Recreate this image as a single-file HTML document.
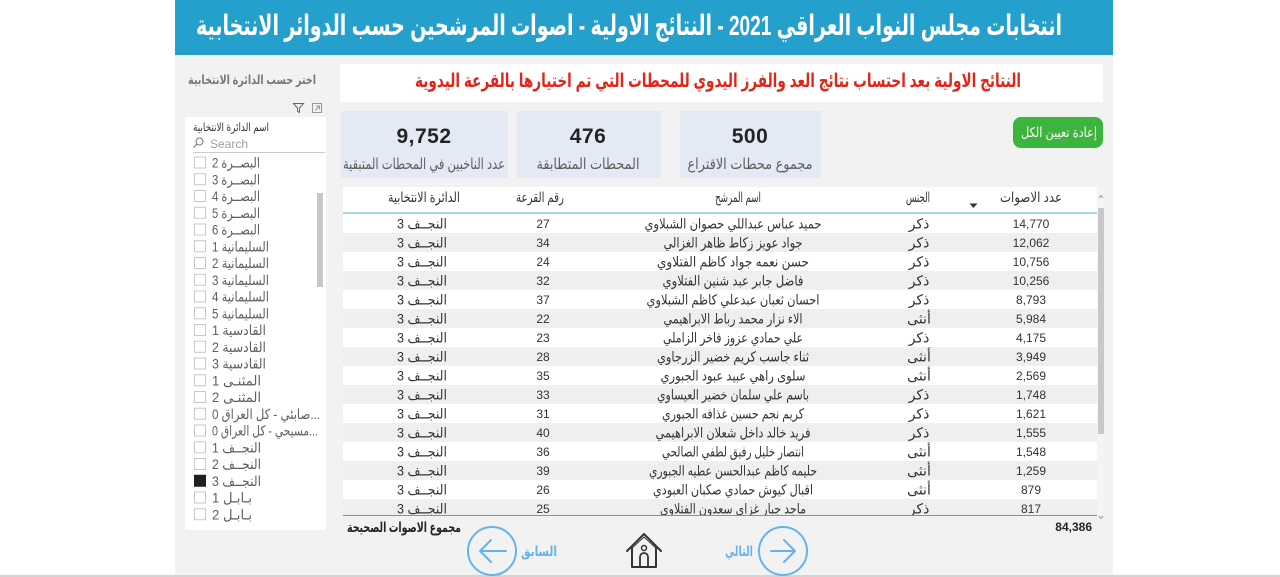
<!DOCTYPE html>
<html>
<head>
<meta charset="utf-8">
<style>
html,body{margin:0;padding:0;background:#fff;}
svg{display:block;}
text{font-family:"Liberation Sans","DejaVu Sans",sans-serif;}
</style>
</head>
<body>
<svg xmlns="http://www.w3.org/2000/svg" width="1280" height="577" viewBox="0 0 1280 577">
<defs>
<clipPath id="tclip"><rect x="343" y="187" width="754" height="328"/></clipPath>
</defs>
<rect x="0" y="0" width="1280" height="577" fill="#ffffff"/>
<rect x="175" y="0" width="938" height="575" fill="#f2f2f2"/>
<rect x="0" y="575" width="1280" height="2" fill="#d4d4d4"/>

<!-- Header -->
<rect x="175" y="0" width="938" height="55" fill="#25a0cd"/>
<text x="629" y="35" font-size="28" font-weight="bold" fill="#ffffff" text-anchor="middle" textLength="866" lengthAdjust="spacingAndGlyphs">انتخابات مجلس النواب العراقي 2021 - النتائج الاولية - اصوات المرشحين حسب الدوائر الانتخابية</text>

<!-- Subtitle -->
<rect x="340" y="64" width="763" height="38" fill="#ffffff"/>
<text x="718" y="87" font-size="19" font-weight="bold" fill="#e0261b" text-anchor="middle" textLength="606" lengthAdjust="spacingAndGlyphs">النتائج الاولية بعد احتساب نتائج العد والفرز اليدوي للمحطات التي تم اختيارها بالقرعة اليدوية</text>

<!-- Left slicer panel -->
<text x="252" y="84" font-size="12.5" font-weight="bold" fill="#777777" text-anchor="middle" textLength="128" lengthAdjust="spacingAndGlyphs">اختر حسب الدائرة الانتخابية</text>
<path d="M293.5,103.5 H303.5 L299.5,108 V112.5 L297.5,111.5 V108 Z" fill="none" stroke="#666" stroke-width="1"/>
<rect x="312.5" y="103.5" width="9" height="9" fill="none" stroke="#999" stroke-width="1"/>
<path d="M316,106 H319.5 V109.5 M319.5,106 L315,110.5" fill="none" stroke="#999" stroke-width="1"/>
<rect x="185" y="117" width="141" height="413" fill="#ffffff"/>
<text x="231" y="131" font-size="11.5" fill="#333333" text-anchor="middle" textLength="76" lengthAdjust="spacingAndGlyphs">اسم الدائرة الانتخابية</text>
<circle cx="199.5" cy="141.5" r="3.5" fill="none" stroke="#777" stroke-width="1"/>
<line x1="197" y1="144" x2="193.5" y2="147.5" stroke="#777" stroke-width="1.2"/>
<text x="210" y="148" font-size="12" fill="#a0a0a0">Search</text>
<rect x="193" y="152" width="132" height="1" fill="#cccccc"/>
<rect x="317" y="193" width="6" height="94" fill="#c8c8c8"/>

<g font-size="14" fill="#605e5c">
<rect x="194.5" y="157" width="11" height="11" fill="none" stroke="#c8c8c8"/>
<text x="212" y="167.5" textLength="48" lengthAdjust="spacingAndGlyphs">البصــرة 2</text>
<rect x="194.5" y="173.75" width="11" height="11" fill="none" stroke="#c8c8c8"/>
<text x="212" y="184.25" textLength="48" lengthAdjust="spacingAndGlyphs">البصــرة 3</text>
<rect x="194.5" y="190.5" width="11" height="11" fill="none" stroke="#c8c8c8"/>
<text x="212" y="201" textLength="48" lengthAdjust="spacingAndGlyphs">البصــرة 4</text>
<rect x="194.5" y="207.25" width="11" height="11" fill="none" stroke="#c8c8c8"/>
<text x="212" y="217.75" textLength="48" lengthAdjust="spacingAndGlyphs">البصــرة 5</text>
<rect x="194.5" y="224" width="11" height="11" fill="none" stroke="#c8c8c8"/>
<text x="212" y="234.5" textLength="48" lengthAdjust="spacingAndGlyphs">البصــرة 6</text>
<rect x="194.5" y="240.75" width="11" height="11" fill="none" stroke="#c8c8c8"/>
<text x="212" y="251.25" textLength="57" lengthAdjust="spacingAndGlyphs">السليمانية 1</text>
<rect x="194.5" y="257.5" width="11" height="11" fill="none" stroke="#c8c8c8"/>
<text x="212" y="268" textLength="57" lengthAdjust="spacingAndGlyphs">السليمانية 2</text>
<rect x="194.5" y="274.25" width="11" height="11" fill="none" stroke="#c8c8c8"/>
<text x="212" y="284.75" textLength="57" lengthAdjust="spacingAndGlyphs">السليمانية 3</text>
<rect x="194.5" y="291" width="11" height="11" fill="none" stroke="#c8c8c8"/>
<text x="212" y="301.5" textLength="57" lengthAdjust="spacingAndGlyphs">السليمانية 4</text>
<rect x="194.5" y="307.75" width="11" height="11" fill="none" stroke="#c8c8c8"/>
<text x="212" y="318.25" textLength="57" lengthAdjust="spacingAndGlyphs">السليمانية 5</text>
<rect x="194.5" y="324.5" width="11" height="11" fill="none" stroke="#c8c8c8"/>
<text x="212" y="335" textLength="54" lengthAdjust="spacingAndGlyphs">القادسية 1</text>
<rect x="194.5" y="341.25" width="11" height="11" fill="none" stroke="#c8c8c8"/>
<text x="212" y="351.75" textLength="54" lengthAdjust="spacingAndGlyphs">القادسية 2</text>
<rect x="194.5" y="358" width="11" height="11" fill="none" stroke="#c8c8c8"/>
<text x="212" y="368.5" textLength="54" lengthAdjust="spacingAndGlyphs">القادسية 3</text>
<rect x="194.5" y="374.75" width="11" height="11" fill="none" stroke="#c8c8c8"/>
<text x="212" y="385.25" textLength="49" lengthAdjust="spacingAndGlyphs">المثنـى 1</text>
<rect x="194.5" y="391.5" width="11" height="11" fill="none" stroke="#c8c8c8"/>
<text x="212" y="402" textLength="49" lengthAdjust="spacingAndGlyphs">المثنـى 2</text>
<rect x="194.5" y="408.25" width="11" height="11" fill="none" stroke="#c8c8c8"/>
<text x="212" y="418.75" textLength="108" lengthAdjust="spacingAndGlyphs">صابئي - كل العراق 0...</text>
<rect x="194.5" y="425" width="11" height="11" fill="none" stroke="#c8c8c8"/>
<text x="212" y="435.5" textLength="106" lengthAdjust="spacingAndGlyphs">مسيحي - كل العراق 0...</text>
<rect x="194.5" y="441.75" width="11" height="11" fill="none" stroke="#c8c8c8"/>
<text x="212" y="452.25" textLength="49" lengthAdjust="spacingAndGlyphs">النجــف 1</text>
<rect x="194.5" y="458.5" width="11" height="11" fill="none" stroke="#c8c8c8"/>
<text x="212" y="469" textLength="49" lengthAdjust="spacingAndGlyphs">النجــف 2</text>
<rect x="194" y="474.75" width="12" height="12" fill="#1f1f1f"/>
<text x="212" y="485.75" textLength="49" lengthAdjust="spacingAndGlyphs">النجــف 3</text>
<rect x="194.5" y="492" width="11" height="11" fill="none" stroke="#c8c8c8"/>
<text x="212" y="502.5" textLength="40" lengthAdjust="spacingAndGlyphs">بـابـل 1</text>
<rect x="194.5" y="508.75" width="11" height="11" fill="none" stroke="#c8c8c8"/>
<text x="212" y="519.25" textLength="40" lengthAdjust="spacingAndGlyphs">بـابـل 2</text>
</g>

<!-- KPI cards -->
<rect x="341" y="111" width="167" height="67" fill="#e3e9f5"/>
<text x="424" y="143" font-size="21" font-weight="bold" fill="#252423" text-anchor="middle" letter-spacing="0.5">9,752</text>
<text x="424" y="169" font-size="15" fill="#605e5c" text-anchor="middle" textLength="162" lengthAdjust="spacingAndGlyphs">عدد الناخبين في المحطات المتبقية</text>

<rect x="517" y="111" width="144" height="67" fill="#e3e9f5"/>
<text x="588" y="143" font-size="21" font-weight="bold" fill="#252423" text-anchor="middle" letter-spacing="0.5">476</text>
<text x="588" y="169" font-size="15" fill="#605e5c" text-anchor="middle" textLength="103" lengthAdjust="spacingAndGlyphs">المحطات المتطابقة</text>

<rect x="680" y="111" width="141" height="67" fill="#e3e9f5"/>
<text x="750" y="143" font-size="21" font-weight="bold" fill="#252423" text-anchor="middle" letter-spacing="0.5">500</text>
<text x="750" y="169" font-size="15" fill="#605e5c" text-anchor="middle" textLength="125" lengthAdjust="spacingAndGlyphs">مجموع محطات الاقتراع</text>

<!-- Reset button -->
<rect x="1013" y="117" width="90" height="31" rx="8" ry="8" fill="#3db43d"/>
<text x="1059" y="137" font-size="13.5" fill="#ffffff" text-anchor="middle" textLength="76" lengthAdjust="spacingAndGlyphs">إعادة تعيين الكل</text>

<!-- Table -->
<rect x="343" y="187" width="754" height="328" fill="#ffffff"/>
<rect x="1097" y="187" width="9" height="330" fill="#f4f4f4"/>
<rect x="1098" y="208" width="6" height="226" fill="#c8c8c8"/>
<path d="M1099,198 L1101,195.5 L1103,198" fill="none" stroke="#888" stroke-width="0.8"/>
<path d="M1099,516 L1101,518.5 L1103,516" fill="none" stroke="#888" stroke-width="0.8"/>

<g font-size="14" fill="#333333" text-anchor="middle">
<text x="424" y="202" textLength="72" lengthAdjust="spacingAndGlyphs">الدائرة الانتخابية</text>
<text x="540" y="202" textLength="48" lengthAdjust="spacingAndGlyphs">رقم القرعة</text>
<text x="738" y="202" textLength="46" lengthAdjust="spacingAndGlyphs">اسم المرشح</text>
<text x="918" y="202" textLength="24" lengthAdjust="spacingAndGlyphs">الجنس</text>
<text x="1031" y="202" textLength="62" lengthAdjust="spacingAndGlyphs">عدد الاصوات</text>
</g>
<path d="M969.5,203.5 H977.5 L973.5,208 Z" fill="#333"/>
<rect x="343" y="212" width="754" height="2" fill="#a9d7ea"/>

<g clip-path="url(#tclip)">
<rect x="343" y="233" width="754" height="19" fill="#efefef"/>
<rect x="343" y="271" width="754" height="19" fill="#efefef"/>
<rect x="343" y="309" width="754" height="19" fill="#efefef"/>
<rect x="343" y="347" width="754" height="19" fill="#efefef"/>
<rect x="343" y="385" width="754" height="19" fill="#efefef"/>
<rect x="343" y="423" width="754" height="19" fill="#efefef"/>
<rect x="343" y="461" width="754" height="19" fill="#efefef"/>
<rect x="343" y="499" width="754" height="19" fill="#efefef"/>

<g font-size="12" fill="#333333" text-anchor="middle">
<g font-size="14">
<text x="422" y="228.5" textLength="50" lengthAdjust="spacingAndGlyphs">النجــف 3</text>
<text x="422" y="247.5" textLength="50" lengthAdjust="spacingAndGlyphs">النجــف 3</text>
<text x="422" y="266.5" textLength="50" lengthAdjust="spacingAndGlyphs">النجــف 3</text>
<text x="422" y="285.5" textLength="50" lengthAdjust="spacingAndGlyphs">النجــف 3</text>
<text x="422" y="304.5" textLength="50" lengthAdjust="spacingAndGlyphs">النجــف 3</text>
<text x="422" y="323.5" textLength="50" lengthAdjust="spacingAndGlyphs">النجــف 3</text>
<text x="422" y="342.5" textLength="50" lengthAdjust="spacingAndGlyphs">النجــف 3</text>
<text x="422" y="361.5" textLength="50" lengthAdjust="spacingAndGlyphs">النجــف 3</text>
<text x="422" y="380.5" textLength="50" lengthAdjust="spacingAndGlyphs">النجــف 3</text>
<text x="422" y="399.5" textLength="50" lengthAdjust="spacingAndGlyphs">النجــف 3</text>
<text x="422" y="418.5" textLength="50" lengthAdjust="spacingAndGlyphs">النجــف 3</text>
<text x="422" y="437.5" textLength="50" lengthAdjust="spacingAndGlyphs">النجــف 3</text>
<text x="422" y="456.5" textLength="50" lengthAdjust="spacingAndGlyphs">النجــف 3</text>
<text x="422" y="475.5" textLength="50" lengthAdjust="spacingAndGlyphs">النجــف 3</text>
<text x="422" y="494.5" textLength="50" lengthAdjust="spacingAndGlyphs">النجــف 3</text>
<text x="422" y="513.5" textLength="50" lengthAdjust="spacingAndGlyphs">النجــف 3</text>

<text x="733" y="228.5" textLength="177" lengthAdjust="spacingAndGlyphs">حميد عباس عبداللي حصوان الشبلاوي</text>
<text x="733" y="247.5" textLength="139" lengthAdjust="spacingAndGlyphs">جواد عويز زكاط ظاهر الغزالي</text>
<text x="733" y="266.5" textLength="152" lengthAdjust="spacingAndGlyphs">حسن نعمه جواد كاظم الفتلاوي</text>
<text x="733" y="285.5" textLength="141" lengthAdjust="spacingAndGlyphs">فاضل جابر عبد شنين الفتلاوي</text>
<text x="733" y="304.5" textLength="173" lengthAdjust="spacingAndGlyphs">احسان ثعبان عبدعلي كاظم الشبلاوي</text>
<text x="733" y="323.5" textLength="139" lengthAdjust="spacingAndGlyphs">الاء نزار محمد رباط الابراهيمي</text>
<text x="733" y="342.5" textLength="140" lengthAdjust="spacingAndGlyphs">علي حمادي عزوز فاخر الزاملي</text>
<text x="733" y="361.5" textLength="152" lengthAdjust="spacingAndGlyphs">ثناء جاسب كريم خضير الزرجاوي</text>
<text x="733" y="380.5" textLength="145" lengthAdjust="spacingAndGlyphs">سلوى راهي عبيد عبود الجبوري</text>
<text x="733" y="399.5" textLength="152" lengthAdjust="spacingAndGlyphs">باسم علي سلمان خضير العيساوي</text>
<text x="733" y="418.5" textLength="142" lengthAdjust="spacingAndGlyphs">كريم نجم حسين غذافه الجبوري</text>
<text x="733" y="437.5" textLength="155" lengthAdjust="spacingAndGlyphs">فريد خالد داخل شعلان الابراهيمي</text>
<text x="733" y="456.5" textLength="142" lengthAdjust="spacingAndGlyphs">انتصار خليل رفيق لطفي الصالحي</text>
<text x="733" y="475.5" textLength="168" lengthAdjust="spacingAndGlyphs">حليمه كاظم عبدالحسن عطيه الجبوري</text>
<text x="733" y="494.5" textLength="160" lengthAdjust="spacingAndGlyphs">اقبال كيوش حمادي صكبان العبودي</text>
<text x="733" y="513.5" textLength="146" lengthAdjust="spacingAndGlyphs">ماجد جبار غزاي سعدون الفتلاوي</text>

<text x="919" y="228.5">ذكر</text>
<text x="919" y="247.5">ذكر</text>
<text x="919" y="266.5">ذكر</text>
<text x="919" y="285.5">ذكر</text>
<text x="919" y="304.5">ذكر</text>
<text x="919" y="323.5">أنثى</text>
<text x="919" y="342.5">ذكر</text>
<text x="919" y="361.5">أنثى</text>
<text x="919" y="380.5">أنثى</text>
<text x="919" y="399.5">ذكر</text>
<text x="919" y="418.5">ذكر</text>
<text x="919" y="437.5">ذكر</text>
<text x="919" y="456.5">أنثى</text>
<text x="919" y="475.5">أنثى</text>
<text x="919" y="494.5">أنثى</text>
<text x="919" y="513.5">ذكر</text>
</g>

<text x="543" y="228">27</text>
<text x="543" y="247">34</text>
<text x="543" y="266">24</text>
<text x="543" y="285">32</text>
<text x="543" y="304">37</text>
<text x="543" y="323">22</text>
<text x="543" y="342">23</text>
<text x="543" y="361">28</text>
<text x="543" y="380">35</text>
<text x="543" y="399">33</text>
<text x="543" y="418">31</text>
<text x="543" y="437">40</text>
<text x="543" y="456">36</text>
<text x="543" y="475">39</text>
<text x="543" y="494">26</text>
<text x="543" y="513">25</text>

<text x="1031" y="228">14,770</text>
<text x="1031" y="247">12,062</text>
<text x="1031" y="266">10,756</text>
<text x="1031" y="285">10,256</text>
<text x="1031" y="304">8,793</text>
<text x="1031" y="323">5,984</text>
<text x="1031" y="342">4,175</text>
<text x="1031" y="361">3,949</text>
<text x="1031" y="380">2,569</text>
<text x="1031" y="399">1,748</text>
<text x="1031" y="418">1,621</text>
<text x="1031" y="437">1,555</text>
<text x="1031" y="456">1,548</text>
<text x="1031" y="475">1,259</text>
<text x="1031" y="494">879</text>
<text x="1031" y="513">817</text>
</g>
</g>
<rect x="343" y="515" width="754" height="1" fill="#5b9fd6"/>

<!-- Totals -->
<text x="404" y="532" font-size="14" font-weight="bold" fill="#252423" text-anchor="middle" textLength="114" lengthAdjust="spacingAndGlyphs">مجموع الاصوات الصحيحة</text>
<text x="1092" y="531" font-size="12" font-weight="bold" fill="#252423" text-anchor="end">84,386</text>

<!-- Navigation -->
<circle cx="492" cy="551" r="24" fill="none" stroke="#64b3ea" stroke-width="2"/>
<path d="M480,551 H506 M491,540 L480,551 L491,562" fill="none" stroke="#64b3ea" stroke-width="2" stroke-linecap="round" stroke-linejoin="round"/>
<text x="539" y="556" font-size="14" font-weight="bold" fill="#64b3ea" text-anchor="middle" textLength="36" lengthAdjust="spacingAndGlyphs">السابق</text>

<path d="M627,551 L644,534 L661,551" fill="none" stroke="#333" stroke-width="2" stroke-linejoin="round" stroke-linecap="round"/>
<path d="M631,549 L644,537 L657,549" fill="none" stroke="#333" stroke-width="1" stroke-linejoin="round"/>
<path d="M632,548 V567 H656 V548" fill="none" stroke="#333" stroke-width="2" stroke-linejoin="round"/>
<path d="M640,567 V557 A4,4 0 0 1 648,557 V567" fill="none" stroke="#333" stroke-width="1.8"/>
<circle cx="644" cy="548" r="2.5" fill="none" stroke="#333" stroke-width="1.5"/>

<text x="739" y="556" font-size="14" font-weight="bold" fill="#64b3ea" text-anchor="middle" textLength="28" lengthAdjust="spacingAndGlyphs">التالي</text>
<circle cx="783" cy="551" r="24" fill="none" stroke="#64b3ea" stroke-width="2"/>
<path d="M771,551 H795 M784,540 L795,551 L784,562" fill="none" stroke="#64b3ea" stroke-width="2" stroke-linecap="round" stroke-linejoin="round"/>
</svg>
</body>
</html>
